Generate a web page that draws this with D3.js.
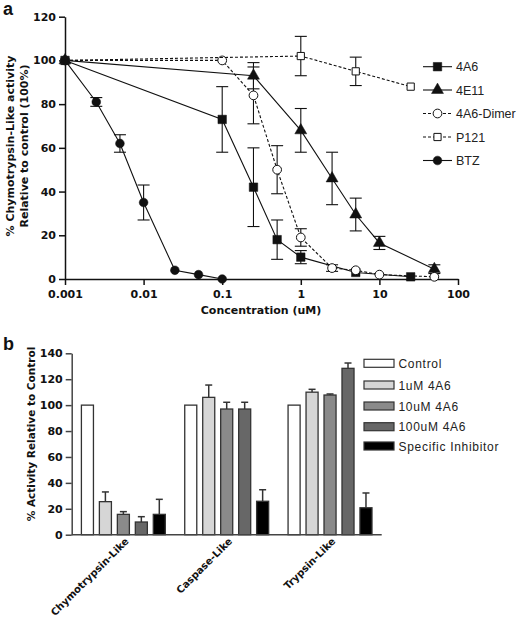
<!DOCTYPE html>
<html>
<head>
<meta charset="utf-8">
<script src="https://cdn.jsdelivr.net/npm/d3@7/dist/d3.min.js"></script>
<style>
  html, body { margin: 0; padding: 0; background: #fff; }
  svg { display: block; }
</style>
</head>
<body>
<svg id="chart" width="520" height="621"></svg>
<script>
// ---------------- Panel a data ----------------
const tickConc = [0.001, 0.01, 0.1, 1, 10, 100];
const yTicksA = [0, 20, 40, 60, 80, 100, 120];

const conc_4A6 = [0.001, 0.1, 0.25, 0.5, 1, 5, 25];
const val_4A6  = [100, 73, 42, 18, 10, 3, 1];
const err_4A6  = [0, 15, 18, 9, 3, 0, 0];

const conc_4E11 = [0.001, 0.25, 1, 2.5, 5, 10, 50];
const val_4E11  = [100, 93, 68, 46, 29.5, 16.5, 4.5];
const err_4E11  = [0, 6, 10, 12, 7.5, 3, 2];

const conc_dimer = [0.001, 0.1, 0.25, 0.5, 1, 2.5, 5, 10, 50];
const val_dimer  = [100, 100, 84, 50, 19, 5, 4, 2, 1];
const err_dimer  = [0, 0, 13, 11, 4, 1.5, 0, 0, 0];

const conc_P121 = [0.001, 1, 5, 25];
const val_P121  = [100, 102, 95, 88];
const err_P121  = [0, 9, 6.5, 0];

const conc_BTZ = [0.001, 0.0025, 0.005, 0.01, 0.025, 0.05, 0.1];
const val_BTZ  = [100, 81, 62, 35, 4, 2, 0];
const err_BTZ  = [0, 2, 4, 8, 0, 0, 0];

const seriesNames = ["4A6", "4E11", "4A6-Dimer", "P121", "BTZ"];

// ---------------- Panel b data ----------------
const categories = ["Chymotrypsin-Like", "Caspase-Like", "Trypsin-Like"];
const treatments = ["Control", "1uM 4A6", "10uM 4A6", "100uM 4A6", "Specific Inhibitor"];
const yTicksB = [0, 20, 40, 60, 80, 100, 120, 140];
const val_control  = [100, 100, 100];
const err_control  = [0, 0, 0];
const val_1uM      = [25.5, 106, 110];
const err_1uM      = [7.5, 9.5, 2.2];
const val_10uM     = [15.7, 97, 107.8];
const err_10uM     = [2.1, 5.2, 0.8];
const val_100uM    = [9.8, 97, 128.4];
const err_100uM    = [4.1, 5.2, 4.1];
const val_specific = [15.7, 25.8, 20.8];
const err_specific = [11.6, 8.9, 11.4];

// ---------------- Drawing ----------------
const svg = d3.select("#chart");
const tickFont = "'DejaVu Sans', Verdana, sans-serif";
const legFont = "'Liberation Sans', Arial, sans-serif";
const ink = "#111";

// ===== Panel a =====
const xA = d3.scaleLog().domain([0.001, 100]).range([65, 458]);
const yA = d3.scaleLinear().domain([0, 120]).range([279, 16.7]);

const gA = svg.append("g");

const axXA = gA.append("g").attr("transform", `translate(0,${yA(0)})`)
  .call(d3.axisBottom(xA).tickValues(tickConc).tickFormat(d => String(d)).tickSize(6).tickSizeOuter(0));
const axYA = gA.append("g").attr("transform", `translate(${xA(0.001)},0)`)
  .call(d3.axisLeft(yA).tickValues(yTicksA).tickSize(6).tickSizeOuter(0));
[axXA, axYA].forEach(ax => {
  ax.select(".domain").attr("stroke", ink).attr("stroke-width", 1.5);
  ax.selectAll(".tick line").attr("stroke", ink).attr("stroke-width", 1.5);
  ax.selectAll(".tick text").attr("fill", ink).attr("font-family", tickFont)
    .attr("font-weight", "bold").attr("font-size", 11);
});
axXA.selectAll(".tick text").attr("dy", "0.9em");

gA.append("text").attr("x", 261).attr("y", 314).attr("text-anchor", "middle")
  .attr("font-family", tickFont).attr("font-weight", "bold").attr("font-size", 11)
  .attr("fill", ink).text("Concentration (uM)");
gA.append("text").attr("transform", "translate(14,146) rotate(-90)").attr("text-anchor", "middle")
  .attr("font-family", tickFont).attr("font-weight", "bold").attr("font-size", 11)
  .attr("fill", ink).text("% Chymotrypsin-Like activity");
gA.append("text").attr("transform", "translate(28,146) rotate(-90)").attr("text-anchor", "middle")
  .attr("font-family", tickFont).attr("font-weight", "bold").attr("font-size", 11)
  .attr("fill", ink).text("Relative to control (100%)");
svg.append("text").attr("x", 3).attr("y", 15).attr("font-family", legFont)
  .attr("font-weight", "bold").attr("font-size", 18).attr("fill", ink).text("a");

const seriesA = [
  {name: "4A6", x: conc_4A6, y: val_4A6, e: err_4A6, sym: d3.symbolSquare, size: 72, fill: ink, dash: null},
  {name: "4E11", x: conc_4E11, y: val_4E11, e: err_4E11, sym: d3.symbolTriangle, size: 62, fill: ink, dash: null},
  {name: "4A6-Dimer", x: conc_dimer, y: val_dimer, e: err_dimer, sym: d3.symbolCircle, size: 60, fill: "#fff", dash: "3,2"},
  {name: "P121", x: conc_P121, y: val_P121, e: err_P121, sym: d3.symbolSquare, size: 52, fill: "#fff", dash: "3,2"},
  {name: "BTZ", x: conc_BTZ, y: val_BTZ, e: err_BTZ, sym: d3.symbolCircle, size: 60, fill: ink, dash: null}
];

const line = d3.line().x(d => xA(d.x)).y(d => yA(d.y));
const capW = 6;
seriesA.forEach(s => {
  const pts = s.x.map((xv, i) => ({x: xv, y: s.y[i], e: s.e[i]}));
  const g = gA.append("g");
  g.append("path").datum(pts).attr("d", line).attr("fill", "none").attr("stroke", ink)
    .attr("stroke-width", 1.1).attr("stroke-dasharray", s.dash);
  pts.filter(p => p.e > 0).forEach(p => {
    const cx = xA(p.x), y1 = yA(p.y + p.e), y2 = yA(p.y - p.e);
    g.append("line").attr("x1", cx).attr("x2", cx).attr("y1", y1).attr("y2", y2)
      .attr("stroke", ink).attr("stroke-width", 1.1);
    [y1, y2].forEach(yy => g.append("line").attr("x1", cx - capW).attr("x2", cx + capW)
      .attr("y1", yy).attr("y2", yy).attr("stroke", ink).attr("stroke-width", 1.1));
  });
  g.selectAll("path.m").data(pts).join("path").attr("class", "m")
    .attr("d", d3.symbol().type(s.sym).size(s.size))
    .attr("transform", d => `translate(${xA(d.x)},${yA(d.y)})`)
    .attr("fill", s.fill).attr("stroke", ink).attr("stroke-width", s.fill === ink ? 0.5 : 1);
});

// legend a
const legA = gA.append("g");
const legRowsA = [66.7, 90, 113.5, 137, 160.5];
seriesA.forEach((s, i) => {
  const yy = legRowsA[i];
  legA.append("line").attr("x1", 423).attr("x2", 452).attr("y1", yy).attr("y2", yy)
    .attr("stroke", ink).attr("stroke-width", 1.1).attr("stroke-dasharray", s.dash);
  legA.append("path").attr("d", d3.symbol().type(s.sym).size(s.size)())
    .attr("transform", `translate(437.5,${yy})`).attr("fill", s.fill).attr("stroke", ink)
    .attr("stroke-width", s.fill === ink ? 0.5 : 1);
  legA.append("text").attr("x", 456).attr("y", yy + 4.5).attr("font-family", legFont)
    .attr("font-size", 12.5).attr("fill", "#222").text(seriesNames[i]);
});

// ===== Panel b =====
const yB = d3.scaleLinear().domain([0, 140]).range([534.7, 353.3]);
const x0 = d3.scaleBand().domain(categories).range([71.7, 381.7]).padding(0);
const x1 = d3.scaleBand().domain(treatments).range([0, x0.bandwidth()]).paddingInner(0.33).paddingOuter(0.54);
const barVals = [val_control, val_1uM, val_10uM, val_100uM, val_specific];
const barErrs = [err_control, err_1uM, err_10uM, err_100uM, err_specific];
const barColors = ["#ffffff", "#d6d6d6", "#8a8a8a", "#676767", "#000000"];

const gB = svg.append("g");
svg.append("text").attr("x", 3).attr("y", 350).attr("font-family", legFont)
  .attr("font-weight", "bold").attr("font-size", 18).attr("fill", ink).text("b");

const axYB = gB.append("g").attr("transform", `translate(71.7,0)`)
  .call(d3.axisLeft(yB).tickValues(yTicksB).tickSize(6).tickSizeOuter(0));
axYB.select(".domain").attr("stroke", "#444").attr("stroke-width", 1.5);
axYB.selectAll(".tick line").attr("stroke", "#444").attr("stroke-width", 1.5);
axYB.selectAll(".tick text").attr("fill", ink).attr("font-family", tickFont)
  .attr("font-weight", "bold").attr("font-size", 11).attr("x", -9);

gB.append("text").attr("transform", "translate(35,434) rotate(-90)").attr("text-anchor", "middle")
  .attr("font-family", tickFont).attr("font-weight", "bold").attr("font-size", 10.5)
  .attr("fill", ink).text("% Activity Relative to Control");

categories.forEach((c, ci) => {
  const gx = x0(c);
  treatments.forEach((t, ti) => {
    const v = barVals[ti][ci], e = barErrs[ti][ci];
    const bx = gx + x1(t), bw = x1.bandwidth();
    if (e > 0) {
      const cx = bx + bw / 2;
      gB.append("line").attr("x1", cx).attr("x2", cx).attr("y1", yB(v)).attr("y2", yB(v + e))
        .attr("stroke", "#333").attr("stroke-width", 1.5);
      gB.append("line").attr("x1", cx - 3.5).attr("x2", cx + 3.5).attr("y1", yB(v + e)).attr("y2", yB(v + e))
        .attr("stroke", "#333").attr("stroke-width", 1.5);
    }
    gB.append("rect").attr("x", bx).attr("y", yB(v)).attr("width", bw).attr("height", yB(0) - yB(v))
      .attr("fill", barColors[ti]).attr("stroke", "#333").attr("stroke-width", 1.3);
  });
  gB.append("text")
    .attr("transform", `translate(${gx + x0.bandwidth() / 2 + 6},542) rotate(-45)`)
    .attr("text-anchor", "end").attr("font-family", tickFont).attr("font-weight", "bold")
    .attr("font-size", 10).attr("fill", ink).text(c);
});
gB.append("line").attr("x1", 71.7).attr("x2", 381.7).attr("y1", yB(0)).attr("y2", yB(0))
  .attr("stroke", "#444").attr("stroke-width", 1.5);

// legend b
const legRowsB = [363.3, 385, 406, 426.7, 446];
treatments.forEach((t, i) => {
  const yy = legRowsB[i];
  gB.append("rect").attr("x", 364).attr("y", yy - 4).attr("width", 30).attr("height", 8)
    .attr("fill", barColors[i]).attr("stroke", "#333").attr("stroke-width", 1.2);
  gB.append("text").attr("x", 398.5).attr("y", yy + 4.5).attr("font-family", legFont)
    .attr("font-size", 12).attr("letter-spacing", 0.7).attr("fill", "#222").text(t);
});
</script>
</body>
</html>
